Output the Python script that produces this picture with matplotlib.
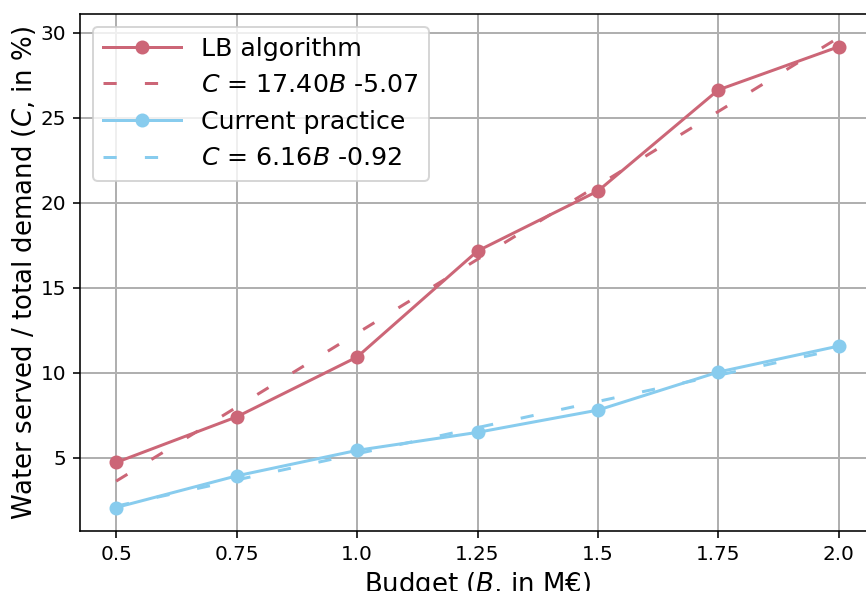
import matplotlib
matplotlib.use("Agg")
import matplotlib.pyplot as plt
import numpy as np

budget = [0.5, 0.75, 1.0, 1.25, 1.5, 1.75, 2.0]
xtick_labels = ["0.5", "0.75", "1.0", "1.25", "1.5", "1.75", "2.0"]
lb_values = [4.73, 7.41, 10.93, 17.17, 20.70, 26.65, 29.19]
current_values = [2.08, 3.94, 5.44, 6.50, 7.81, 10.05, 11.58]
lb_fit = [17.40, -5.07]
current_fit = [6.16, -0.92]

red = "#CC6677"
blue = "#88CCEE"

fig = plt.figure(figsize=(866 / 144, 591 / 144), dpi=144)
ax = fig.add_axes([80 / 866, (591 - 531) / 591, (875 - 80) / 866, (531 - 14) / 591])

x = np.array(budget)
ax.plot(x, lb_values, "-o", color=red, lw=1.5, ms=6, label="LB algorithm")
ax.plot(x, lb_fit[0] * x + lb_fit[1], color=red, lw=1.5, dashes=(4.4, 9.4),
        label=r"$C$ = %.2f$B$ %.2f" % (lb_fit[0], lb_fit[1]))
ax.plot(x, current_values, "-o", color=blue, lw=1.5, ms=6, label="Current practice")
ax.plot(x, current_fit[0] * x + current_fit[1], color=blue, lw=1.5, dashes=(4.4, 9.4),
        label=r"$C$ = %.2f$B$ %.2f" % (current_fit[0], current_fit[1]))

ax.set_xticks(budget)
ax.set_xticklabels(xtick_labels)
ax.grid(True, color="#b0b0b0", lw=1.0)
ax.set_axisbelow(True)
ax.set_xlabel(r"Budget ($B$, in M€)", fontsize=13, labelpad=3)
ax.set_ylabel(r"Water served / total demand ($C$, in %)", fontsize=13, labelpad=1)
ax.legend(loc="upper left", fontsize=12.6, handlelength=3.1)

fig.savefig("out.png", dpi=144)
